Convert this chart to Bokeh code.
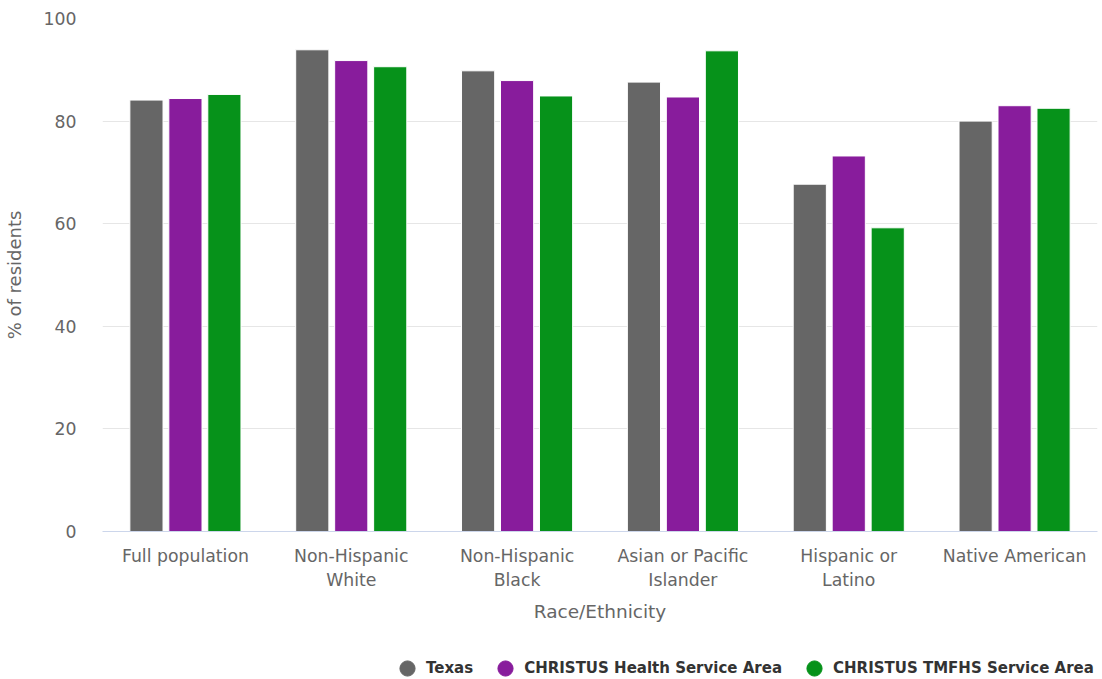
from bokeh.plotting import figure
from bokeh.layouts import column
from bokeh.models import FactorRange, Legend, LegendItem, FixedTicker, ColumnDataSource
from bokeh.transform import dodge
from bokeh.embed import file_html
from bokeh.resources import INLINE

categories = ["Full population", "Non-Hispanic\nWhite", "Non-Hispanic\nBlack",
              "Asian or Pacific\nIslander", "Hispanic or\nLatino", "Native American"]
texas = [84.1, 93.9, 89.8, 87.6, 67.7, 80.0]
health_area = [84.4, 91.8, 87.9, 84.7, 73.2, 83.0]
tmfhs_area = [85.2, 90.6, 84.9, 93.7, 59.2, 82.5]
series_names = ["Texas", "CHRISTUS Health Service Area", "CHRISTUS TMFHS Service Area"]
colors = ["#666666", "#881c9c", "#06921a"]
y_ticks = [0, 20, 40, 60, 80, 100]

source = ColumnDataSource(data=dict(cat=categories, texas=texas, health=health_area, tmfhs=tmfhs_area))

p = figure(width=1102, height=645, x_range=FactorRange(*categories, range_padding=0),
           y_range=(0, 100), output_backend="svg", toolbar_location=None,
           min_border_left=100, min_border_right=5, min_border_top=18, min_border_bottom=114)

cols = ["texas", "health", "tmfhs"]
offsets = [-0.235, 0.0, 0.235]
for col, off, c in zip(cols, offsets, colors):
    p.vbar(x=dodge("cat", off, range=p.x_range), top=col, width=0.2, source=source,
           fill_color=c, line_color="white", line_width=1)

p.outline_line_color = None
p.xgrid.visible = False
p.ygrid.grid_line_color = "#e6e6e6"
p.ygrid.grid_line_width = 1

p.yaxis.ticker = FixedTicker(ticks=y_ticks)
p.yaxis.axis_line_color = None
p.yaxis.major_tick_line_color = None
p.yaxis.minor_tick_line_color = None
p.yaxis.major_label_standoff = 20
p.yaxis.major_label_text_font = "DejaVu Sans"
p.yaxis.major_label_text_font_size = "17.3px"
p.yaxis.major_label_text_color = "#666666"
p.yaxis.axis_label = "% of residents"
p.yaxis.axis_label_text_font = "DejaVu Sans"
p.yaxis.axis_label_text_font_size = "18px"
p.yaxis.axis_label_text_font_style = "normal"
p.yaxis.axis_label_text_color = "#666666"
p.yaxis.axis_label_standoff = 16

p.xaxis.axis_line_color = "#ccd6eb"
p.xaxis.axis_line_width = 1
p.xaxis.major_tick_line_color = None
p.xaxis.minor_tick_line_color = None
p.xaxis.major_label_standoff = 8
p.xaxis.major_label_text_font = "DejaVu Sans"
p.xaxis.major_label_text_font_size = "17.3px"
p.xaxis.major_label_text_color = "#666666"
p.xaxis.axis_label = "Race/Ethnicity"
p.xaxis.axis_label_text_font = "DejaVu Sans"
p.xaxis.axis_label_text_font_size = "18.5px"
p.xaxis.axis_label_text_font_style = "normal"
p.xaxis.axis_label_text_color = "#666666"
p.xaxis.axis_label_standoff = 8

# legend strip
lg = figure(width=1102, height=34, x_range=(0, 1), y_range=(0, 1),
            x_axis_type=None, y_axis_type=None, output_backend="svg",
            toolbar_location=None, min_border=0, outline_line_color=None)
lg.xgrid.visible = False
lg.ygrid.visible = False
items = []
for name, c in zip(series_names, colors):
    r = lg.scatter(x=[0.5], y=[float("nan")], marker="circle", fill_color=c, line_color=c)
    items.append(LegendItem(label=name, renderers=[r]))

legend = Legend(items=items, orientation="horizontal", location=(286, -8),
                glyph_width=38, glyph_height=38, label_standoff=0, spacing=13,
                padding=0, margin=0, border_line_color=None, background_fill_alpha=0,
                label_text_font="DejaVu Sans", label_text_font_style="bold",
                label_text_font_size="15px", label_text_color="#333333")
lg.add_layout(legend, "center")

layout = column(p, lg, spacing=0)
open("out.html", "w").write(file_html(layout, INLINE))
